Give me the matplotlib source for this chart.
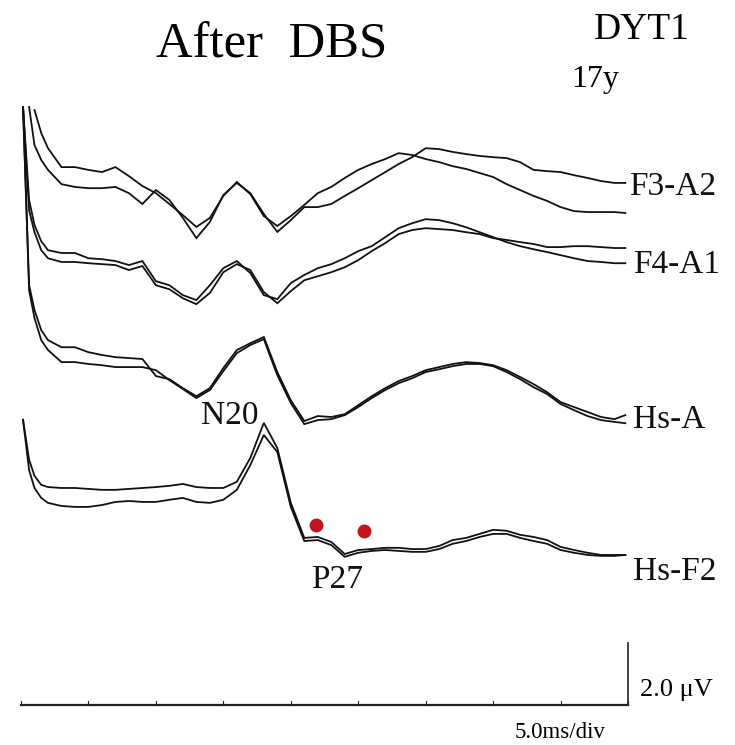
import numpy as np
import matplotlib
matplotlib.use("Agg")
import matplotlib.pyplot as plt

plt.rcParams['font.family'] = ['Liberation Serif', 'DejaVu Serif']

nan = np.nan

# time after stimulus (ms), shared by all traces
time_ms = [0.15, 0.6, 1.0, 1.5, 2, 3, 4, 5, 6, 7, 8, 9, 10, 11, 12, 13, 14, 15, 16, 17, 18, 19,
           20, 21, 22, 23, 24, 25, 26, 27, 28, 29, 30, 31, 32, 33, 34, 35, 36, 37, 38, 39, 40,
           41, 42, 43, 44, 44.8]

# amplitudes (uV) relative to each channel's baseline, two superimposed runs per channel
f3a2_run1 = [nan, nan, 2.58, 1.84, 1.35, 0.74, 0.74, 0.65, 0.58, 0.74, 0.45, 0.13, -0.10, -0.45,
             -0.81, -1.19, -0.90, -0.19, 0.26, -0.13, -0.84, -1.16, -0.84, -0.48, -0.10, 0.10,
             0.39, 0.65, 0.84, 1.00, 1.19, 1.13, 1.00, 0.90, 0.77, 0.68, 0.55, 0.42, 0.19, 0.00,
             -0.19, -0.35, -0.55, -0.68, -0.71, -0.71, -0.71, -0.74]
f3a2_run2 = [nan, 2.68, 1.45, 0.97, 0.65, 0.19, 0.10, 0.06, 0.06, 0.10, -0.10, -0.45, 0.00, -0.32,
             -0.90, -1.55, -1.03, -0.16, 0.23, -0.10, -0.77, -1.35, -0.97, -0.55, -0.55, -0.45,
             -0.19, 0.06, 0.32, 0.58, 0.84, 1.06, 1.35, 1.32, 1.23, 1.16, 1.10, 1.06, 1.03, 0.90,
             0.65, 0.61, 0.58, 0.48, 0.39, 0.29, 0.23, 0.23]

f4a1_run1 = [4.94, 1.94, 1.13, 0.61, 0.32, 0.23, 0.23, 0.06, 0.03, -0.03, -0.16, -0.03, -0.68,
             -0.81, -1.13, -1.29, -0.81, -0.26, -0.03, -0.42, -1.13, -1.26, -0.74, -0.48, -0.26,
             -0.13, 0.06, 0.29, 0.45, 0.74, 1.03, 1.19, 1.32, 1.29, 1.19, 1.06, 0.90, 0.74, 0.58,
             0.45, 0.35, 0.26, 0.16, 0.06, -0.03, -0.06, -0.10, -0.10]
f4a1_run2 = [4.94, 1.61, 0.90, 0.32, 0.06, -0.06, -0.06, -0.10, -0.13, -0.16, -0.32, -0.19, -0.81,
             -0.94, -1.23, -1.42, -1.06, -0.39, -0.13, -0.32, -1.03, -1.39, -1.00, -0.65, -0.52,
             -0.39, -0.23, 0.00, 0.29, 0.55, 0.84, 0.97, 1.03, 1.00, 0.97, 0.90, 0.84, 0.71, 0.65,
             0.58, 0.52, 0.42, 0.42, 0.45, 0.45, 0.42, 0.39, 0.39]

hsa_run1 = [8.81, 3.06, 2.26, 1.61, 1.29, 1.06, 1.06, 0.90, 0.81, 0.74, 0.71, 0.68, 0.13, 0.03,
            -0.26, -0.52, -0.26, 0.39, 0.97, 1.19, 1.39, 0.26, -0.65, -1.32, -1.16, -1.19, -1.10,
            -0.81, -0.52, -0.26, -0.03, 0.13, 0.32, 0.42, 0.52, 0.58, 0.55, 0.48, 0.32, 0.10,
            -0.13, -0.39, -0.71, -0.87, -1.03, -1.19, -1.26, -1.13]
hsa_run2 = [8.81, 2.90, 2.00, 1.29, 0.97, 0.58, 0.58, 0.52, 0.48, 0.42, 0.42, 0.42, 0.32, 0.00,
            -0.29, -0.58, -0.32, 0.29, 0.87, 1.13, 1.32, 0.16, -0.74, -1.42, -1.29, -1.26, -1.13,
            -0.87, -0.58, -0.32, -0.10, 0.06, 0.26, 0.35, 0.45, 0.52, 0.52, 0.45, 0.26, 0.03,
            -0.23, -0.45, -0.77, -0.97, -1.16, -1.29, -1.35, -1.39]

hsf2_run1 = [3.23, 1.94, 1.42, 1.13, 1.06, 1.03, 1.03, 1.00, 0.97, 0.97, 1.00, 1.03, 1.06, 1.10,
             1.16, 1.06, 1.03, 1.03, 1.23, 2.00, 3.13, 2.32, 0.55, -0.58, -0.55, -0.71, -1.10,
             -0.97, -0.94, -0.90, -0.90, -0.94, -0.94, -0.84, -0.65, -0.58, -0.45, -0.32, -0.35,
             -0.48, -0.55, -0.65, -0.87, -0.97, -1.06, -1.13, -1.13, -1.13]
hsf2_run2 = [3.23, 1.61, 1.03, 0.71, 0.55, 0.45, 0.42, 0.42, 0.48, 0.58, 0.61, 0.58, 0.58, 0.65,
             0.71, 0.58, 0.55, 0.65, 0.97, 1.77, 2.74, 2.19, 0.42, -0.68, -0.65, -0.81, -1.19,
             -1.06, -1.00, -0.97, -1.00, -1.03, -1.03, -0.94, -0.77, -0.68, -0.55, -0.45, -0.45,
             -0.58, -0.68, -0.77, -0.97, -1.06, -1.13, -1.16, -1.16, -1.13]

channel_names = ['F3-A2', 'F4-A1', 'Hs-A', 'Hs-F2']
channel_runs = [(f3a2_run1, f3a2_run2), (f4a1_run1, f4a1_run2),
                (hsa_run1, hsa_run2), (hsf2_run1, hsf2_run2)]
channel_offsets = [16.61, 14.35, 10.48, 5.97]   # uV above the time axis
label_levels = [16.71, 14.19, 9.19, 4.29]

# P27 markers (ms, uV on the Hs-F2 display)
marker_ms = [21.87, 25.43]
marker_uv = [5.81, 5.61]

sweep_ms = 45.0
ms_per_div = 5.0
scale_uv = 2.0

fig = plt.figure(figsize=(7.35, 7.45), dpi=100)
ax = fig.add_axes([0, 0, 1, 1])
ax.set_xlim(-1.557, 52.93)
ax.set_ylim(-1.29, 22.74)
ax.axis('off')

t = np.array(time_ms)
for runs, off in zip(channel_runs, channel_offsets):
    for run in runs:
        ax.plot(t, np.array(run) + off, color='#111111', lw=1.3, solid_joinstyle='miter')

for name, lvl in zip(channel_names, label_levels):
    x = 45.1 if name == 'F3-A2' else 45.4
    ax.text(x, lvl, name, fontsize=24, va='center', ha='left', color='#111111')

ax.plot(marker_ms, marker_uv, 'o', color='#c0141e', markersize=10, markeredgewidth=0)

ax.text(15.5, 9.32, 'N20', fontsize=24, ha='center', va='center', color='#111111')
ax.text(23.4, 4.03, 'P27', fontsize=24, ha='center', va='center', color='#111111')

# time axis with a tick every division and the amplitude scale bar
ax.plot([0, sweep_ms], [0, 0], color='#222222', lw=1.6)
for k in np.arange(0, sweep_ms + 0.1, ms_per_div):
    ax.plot([k, k], [0, 0.12], color='#222222', lw=0.8)
ax.plot([sweep_ms, sweep_ms], [0, scale_uv], color='#222222', lw=1.2)
ax.text(45.9, 0.48, '2.0 \u03bcV', fontsize=19, ha='left', va='center')
ax.text(39.96, -0.90, '5.0ms/div', fontsize=16.5, ha='center', va='center')

ax.text(18.6, 21.29, 'After  DBS', fontsize=36.5, ha='center', va='center')
ax.text(46.0, 21.77, 'DYT1', fontsize=27, ha='center', va='center')
ax.text(42.6, 20.16, '17y', fontsize=23, ha='center', va='center')

fig.savefig('out.png', dpi=100, facecolor='white')
